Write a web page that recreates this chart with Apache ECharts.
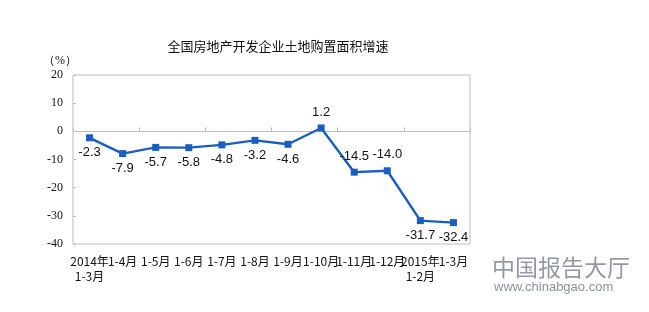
<!DOCTYPE html>
<html><head><meta charset="utf-8">
<script src="https://cdn.jsdelivr.net/npm/echarts@6/dist/echarts.min.js"></script>
<style>html,body{margin:0;padding:0;background:#fff}#c{width:649px;height:312px}</style>
</head><body><div id="c"></div>
<script>
var categories = ['2014年\n1-3月','1-4月','1-5月','1-6月','1-7月','1-8月','1-9月','1-10月','1-11月','1-12月','2015年\n1-2月','1-3月'];
var values = [-2.3,-7.9,-5.7,-5.8,-4.8,-3.2,-4.6,1.2,-14.5,-14.0,-31.7,-32.4];
var labelAbove = [false,false,false,false,false,false,false,true,true,true,false,false];
var yTicks = [-40,-30,-20,-10,0,10,20];

var chart = echarts.init(document.getElementById('c'), null, {renderer:'canvas'});
var lineColor = '#1a5fc0';
var data = values.map(function(v,i){
  return {value:v, label:{position: labelAbove[i] ? 'top' : 'bottom', distance: labelAbove[i] ? 6 : 5}};
});
chart.setOption({
  animation:false,
  title:{text:'全国房地产开发企业土地购置面积增速', left:273, top:35, textAlign:'center',
    textStyle:{fontFamily:'Noto Sans CJK SC', fontSize:13, fontWeight:'normal', color:'#111'}},
  grid:{left:73, right:179, top:75, bottom:68, show:true, borderColor:'#bdbdbd', borderWidth:1, backgroundColor:'#fff'},
  xAxis:[{
    type:'category', data:categories, position:'bottom',
    axisLine:{show:false, onZero:false}, axisTick:{show:false}, splitLine:{show:false},
    axisLabel:{interval:0, margin:10, color:'#111', fontFamily:'Noto Sans CJK SC', fontSize:12, lineHeight:15}
  },{
    type:'category', data:categories, position:'bottom',
    axisLine:{show:true, onZero:true, lineStyle:{color:'#bdbdbd', width:1}},
    axisTick:{show:true, inside:true, length:4, lineStyle:{color:'#bdbdbd'}},
    axisLabel:{show:false}, splitLine:{show:false}
  }],
  yAxis:{type:'value', min:yTicks[0], max:yTicks[yTicks.length-1], interval:10,
    name:'（%）', nameLocation:'end', nameGap:8,
    nameTextStyle:{fontFamily:'Liberation Serif', fontSize:12, color:'#111', align:'right', padding:[0,-4,0,0]},
    axisLine:{show:false}, axisTick:{show:true, inside:true, length:3, lineStyle:{color:'#bdbdbd'}},
    splitLine:{show:false},
    axisLabel:{margin:10, color:'#111', fontFamily:'Liberation Serif', fontSize:12}
  },
  series:[{
    type:'line', xAxisIndex:0, data:data, symbol:'rect', symbolSize:7,
    lineStyle:{color:lineColor, width:2.4}, itemStyle:{color:lineColor},
    label:{show:true, formatter:function(p){return p.value.toFixed(1);}, color:'#111',
      fontFamily:'Liberation Sans', fontSize:13}
  }],
  graphic:[
    {type:'text', left:492, top:256, style:{text:'中国报告大厅', font:'23px "Noto Sans CJK SC"', fill:'rgba(110,118,135,0.75)'}},
    {type:'text', left:494, top:281, style:{text:'www.chinabgao.com', font:'13px "Liberation Sans"', fill:'rgba(110,118,135,0.8)'}}
  ]
});
</script></body></html>
